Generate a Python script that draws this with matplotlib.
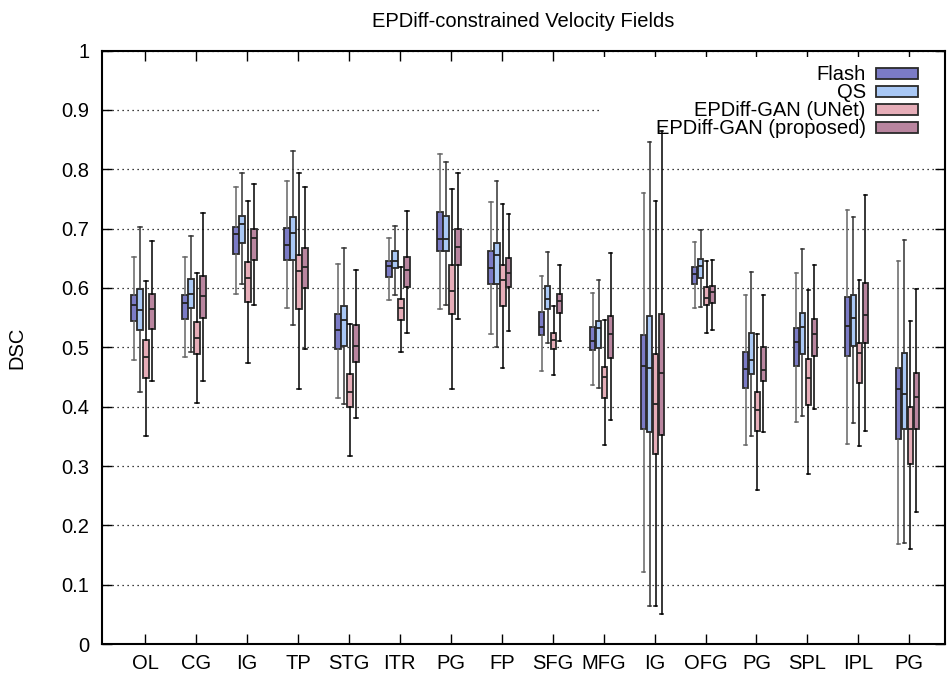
import matplotlib.pyplot as plt
from matplotlib.patches import Patch, Rectangle
from matplotlib.ticker import FormatStrFormatter
import numpy as np

plt.rcParams['font.family'] = ['Liberation Sans', 'DejaVu Sans']

regions = ['OL', 'CG', 'IG', 'TP', 'STG', 'ITR', 'PG', 'FP', 'SFG', 'MFG',
           'IG', 'OFG', 'PG', 'SPL', 'IPL', 'PG']
methods = ['Flash', 'QS', 'EPDiff-GAN (UNet)', 'EPDiff-GAN (proposed)']

# per region: (whisker low, q1, median, q3, whisker high)
flash = [(0.479, 0.544, 0.571, 0.588, 0.652), (0.483, 0.547, 0.574, 0.589, 0.653),
         (0.590, 0.658, 0.691, 0.703, 0.771), (0.567, 0.647, 0.672, 0.701, 0.780),
         (0.414, 0.498, 0.530, 0.556, 0.640), (0.580, 0.619, 0.637, 0.645, 0.685),
         (0.565, 0.662, 0.683, 0.728, 0.825), (0.523, 0.606, 0.634, 0.662, 0.745),
         (0.460, 0.520, 0.534, 0.559, 0.620), (0.437, 0.495, 0.510, 0.534, 0.592),
         (0.122, 0.362, 0.469, 0.521, 0.760), (0.566, 0.607, 0.624, 0.635, 0.677),
         (0.336, 0.431, 0.463, 0.493, 0.588), (0.375, 0.469, 0.509, 0.532, 0.626),
         (0.337, 0.485, 0.536, 0.584, 0.732), (0.168, 0.346, 0.430, 0.465, 0.645)]
qs = [(0.424, 0.529, 0.563, 0.598, 0.702), (0.493, 0.566, 0.590, 0.615, 0.687),
      (0.606, 0.675, 0.707, 0.722, 0.793), (0.537, 0.647, 0.693, 0.720, 0.830),
      (0.404, 0.502, 0.546, 0.569, 0.667), (0.589, 0.633, 0.646, 0.662, 0.705),
      (0.572, 0.662, 0.682, 0.722, 0.813), (0.501, 0.606, 0.655, 0.675, 0.781),
      (0.508, 0.565, 0.582, 0.603, 0.660), (0.431, 0.499, 0.532, 0.545, 0.614),
      (0.065, 0.358, 0.465, 0.553, 0.846), (0.568, 0.617, 0.637, 0.649, 0.698),
      (0.351, 0.455, 0.478, 0.524, 0.627), (0.385, 0.489, 0.534, 0.558, 0.665),
      (0.373, 0.503, 0.549, 0.589, 0.719), (0.171, 0.363, 0.421, 0.490, 0.681)]
unet = [(0.351, 0.448, 0.483, 0.513, 0.612), (0.406, 0.488, 0.516, 0.542, 0.625),
        (0.473, 0.576, 0.617, 0.643, 0.746), (0.429, 0.565, 0.629, 0.656, 0.793),
        (0.317, 0.399, 0.424, 0.455, 0.539), (0.493, 0.546, 0.567, 0.581, 0.635),
        (0.429, 0.556, 0.595, 0.639, 0.766), (0.466, 0.570, 0.613, 0.638, 0.742),
        (0.453, 0.497, 0.513, 0.525, 0.569), (0.335, 0.414, 0.450, 0.467, 0.546),
        (0.064, 0.320, 0.405, 0.489, 0.746), (0.525, 0.571, 0.583, 0.601, 0.646),
        (0.260, 0.359, 0.395, 0.424, 0.523), (0.287, 0.403, 0.449, 0.480, 0.596),
        (0.334, 0.440, 0.490, 0.508, 0.614), (0.161, 0.304, 0.363, 0.400, 0.544)]
proposed = [(0.443, 0.531, 0.565, 0.590, 0.679), (0.443, 0.549, 0.587, 0.620, 0.727),
            (0.571, 0.648, 0.684, 0.699, 0.775), (0.497, 0.600, 0.635, 0.667, 0.770),
            (0.381, 0.475, 0.503, 0.537, 0.630), (0.525, 0.601, 0.631, 0.652, 0.729),
            (0.547, 0.639, 0.669, 0.700, 0.793), (0.528, 0.602, 0.625, 0.651, 0.725),
            (0.510, 0.558, 0.578, 0.590, 0.638), (0.377, 0.482, 0.523, 0.553, 0.659),
            (0.050, 0.353, 0.457, 0.557, 0.865), (0.530, 0.574, 0.593, 0.603, 0.647),
            (0.357, 0.443, 0.461, 0.501, 0.588), (0.396, 0.486, 0.523, 0.547, 0.638),
            (0.359, 0.508, 0.555, 0.608, 0.757), (0.222, 0.363, 0.417, 0.456, 0.598)]

colors = ['#7b7bc6', '#a9c8f5', '#e6adb8', '#b9859f']
whisker_colors = ['#666666', '#333333', 'black', 'black']
offsets = [-0.215, -0.098, 0.02, 0.137]

fig = plt.figure(figsize=(9.49, 6.74), dpi=100)
ax = fig.add_axes([101.7 / 949, 29.9 / 674, 843.3 / 949, 593.5 / 674])

x = np.arange(1, len(regions) + 1)
for data, c, wc, off in zip([flash, qs, unet, proposed], colors, whisker_colors, offsets):
    stats = [dict(whislo=d[0], q1=d[1], med=d[2], q3=d[3], whishi=d[4]) for d in data]
    ax.bxp(stats, positions=x + off, widths=0.11, patch_artist=True,
           showfliers=False, manage_ticks=False, capwidths=0.07,
           boxprops=dict(facecolor=c, edgecolor='#2a2a2a', lw=1.3),
           medianprops=dict(color='#222222', lw=1.3),
           whiskerprops=dict(color=wc, lw=1.1),
           capprops=dict(color=wc, lw=1.1))

ax.set_xlim(0.15, 16.7)
ax.set_ylim(0, 1)
ax.set_xticks(x)
ax.set_xticklabels(regions)
ax.set_yticks(np.arange(0, 1.01, 0.1))
ax.yaxis.set_major_formatter(FormatStrFormatter('%g'))
ax.tick_params(direction='in', length=7, width=1, top=True, right=True, labelsize=14.5)
ax.tick_params(axis='x', pad=7)
ax.tick_params(axis='y', pad=9)
for s in ax.spines.values():
    s.set_linewidth(1.5)

ax.set_axisbelow(True)
ax.yaxis.grid(True, linestyle=(0, (1, 3)), color='black', lw=0.9)
ax.add_patch(Rectangle((0.593, 0.87), 0.41, 0.12, transform=ax.transAxes,
                       facecolor='white', edgecolor='none', zorder=1))

ax.set_ylabel('DSC', fontsize=14.5, labelpad=25)
ax.set_title('EPDiff-constrained Velocity Fields', fontsize=14.5, pad=17)

handles = [Patch(facecolor=c, edgecolor='#2a2a2a', lw=1.3) for c in colors]
ax.legend(handles, methods, loc='upper right', bbox_to_anchor=(0.968, 0.975),
          markerfirst=False, frameon=False, fontsize=14.5, handlelength=2.1,
          handleheight=0.5, labelspacing=-0.05, handletextpad=0.5,
          borderpad=0, borderaxespad=0)

fig.savefig('out.png', dpi=100)
